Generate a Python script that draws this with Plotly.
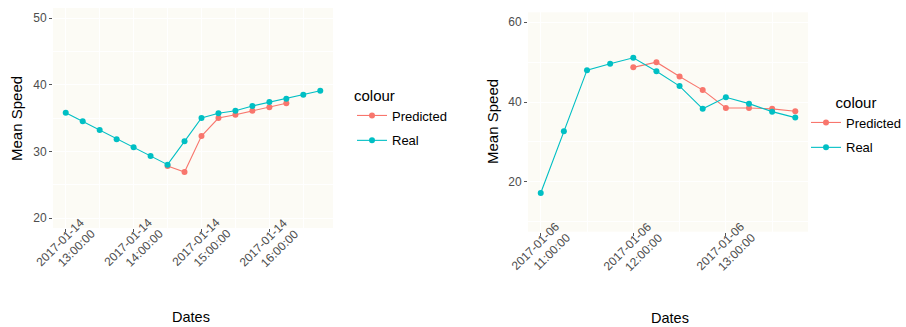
import plotly.graph_objects as go

# ---------- Left panel data (2017-01-14) ----------
left_real_times = ["2017-01-14 13:00", "2017-01-14 13:15", "2017-01-14 13:30", "2017-01-14 13:45",
                   "2017-01-14 14:00", "2017-01-14 14:15", "2017-01-14 14:30", "2017-01-14 14:45",
                   "2017-01-14 15:00", "2017-01-14 15:15", "2017-01-14 15:30", "2017-01-14 15:45",
                   "2017-01-14 16:00", "2017-01-14 16:15", "2017-01-14 16:30", "2017-01-14 16:45"]
left_real_values = [35.8, 34.5, 33.2, 31.8, 30.6, 29.3, 28.0, 31.5,
                    35.0, 35.7, 36.1, 36.8, 37.4, 37.9, 38.5, 39.1]
left_pred_times = ["2017-01-14 14:30", "2017-01-14 14:45", "2017-01-14 15:00", "2017-01-14 15:15",
                   "2017-01-14 15:30", "2017-01-14 15:45", "2017-01-14 16:00", "2017-01-14 16:15"]
left_pred_values = [27.8, 26.9, 32.3, 35.0, 35.5, 36.1, 36.6, 37.2]
left_tickvals = ["2017-01-14 13:00", "2017-01-14 14:00", "2017-01-14 15:00", "2017-01-14 16:00"]
left_ticktext = ["2017-01-14<br>13:00:00", "2017-01-14<br>14:00:00",
                 "2017-01-14<br>15:00:00", "2017-01-14<br>16:00:00"]
left_yticks = [20, 30, 40, 50]

# ---------- Right panel data (2017-01-06) ----------
right_real_times = ["2017-01-06 11:00", "2017-01-06 11:15", "2017-01-06 11:30", "2017-01-06 11:45",
                    "2017-01-06 12:00", "2017-01-06 12:15", "2017-01-06 12:30", "2017-01-06 12:45",
                    "2017-01-06 13:00", "2017-01-06 13:15", "2017-01-06 13:30", "2017-01-06 13:45"]
right_real_values = [17.2, 32.7, 48.0, 49.6, 51.1, 47.7, 44.0, 38.3, 41.2, 39.6, 37.6, 36.1]
right_pred_times = ["2017-01-06 12:00", "2017-01-06 12:15", "2017-01-06 12:30", "2017-01-06 12:45",
                    "2017-01-06 13:00", "2017-01-06 13:15", "2017-01-06 13:30", "2017-01-06 13:45"]
right_pred_values = [48.7, 50.0, 46.4, 43.0, 38.5, 38.5, 38.3, 37.7]
right_tickvals = ["2017-01-06 11:00", "2017-01-06 12:00", "2017-01-06 13:00"]
right_ticktext = ["2017-01-06<br>11:00:00", "2017-01-06<br>12:00:00", "2017-01-06<br>13:00:00"]
right_yticks = [20, 40, 60]

RED = "#F8766D"
TEAL = "#00BFC4"
BG = "#FCFBF5"
W, H = 906, 327

fig = go.Figure()


def add_series(x, y, name, color, xa, ya, legend, group):
    fig.add_trace(go.Scatter(
        x=x, y=y, name=name, mode="lines+markers",
        line=dict(color=color, width=1.1),
        marker=dict(color=color, size=6),
        xaxis=xa, yaxis=ya, legend=legend, legendgroup=group,
    ))


add_series(left_pred_times, left_pred_values, "Predicted", RED, "x", "y", "legend", "lp")
add_series(left_real_times, left_real_values, "Real", TEAL, "x", "y", "legend", "lr")
add_series(right_pred_times, right_pred_values, "Predicted", RED, "x2", "y2", "legend2", "rp")
add_series(right_real_times, right_real_values, "Real", TEAL, "x2", "y2", "legend2", "rr")


def px_x(p):
    return p / W


def px_y(p):
    return 1 - p / H


FONT = "Liberation Sans, Arial, sans-serif"
tickfont = dict(family=FONT, size=12, color="#4D4D4D")
common_axis = dict(
    showgrid=True, gridcolor="white", gridwidth=1.1,
    zeroline=False, showline=False, automargin=False,
    ticks="outside", ticklen=3, tickcolor="#555555", tickwidth=1,
    tickfont=tickfont,
)

fig.update_layout(
    width=W, height=H,
    margin=dict(l=0, r=0, t=0, b=0),
    paper_bgcolor="white",
    plot_bgcolor=BG,
    font=dict(family=FONT, color="black"),
    xaxis=dict(
        domain=[px_x(53), px_x(333)], anchor="y",
        type="date", range=["2017-01-14 12:48:45", "2017-01-14 16:56:15"],
        tickmode="array", tickvals=left_tickvals, showticklabels=False,
        minor=dict(dtick=1800000, tick0="2017-01-14 12:30", showgrid=True,
                   gridcolor="white", gridwidth=0.6),
        **common_axis,
    ),
    yaxis=dict(
        domain=[px_y(228), px_y(8)], anchor="x",
        range=[18.5, 51.5], tickmode="array", tickvals=left_yticks,
        minor=dict(dtick=5, tick0=0, showgrid=True, gridcolor="white", gridwidth=0.6),
        **common_axis,
    ),
    xaxis2=dict(
        domain=[px_x(528), px_x(808)], anchor="y2",
        type="date", range=["2017-01-06 10:51:45", "2017-01-06 13:53:15"],
        tickmode="array", tickvals=right_tickvals, showticklabels=False,
        minor=dict(dtick=1800000, tick0="2017-01-06 10:30", showgrid=True,
                   gridcolor="white", gridwidth=0.6),
        **common_axis,
    ),
    yaxis2=dict(
        domain=[px_y(231.7), px_y(12.3)], anchor="x2",
        range=[7.5, 62.5], tickmode="array", tickvals=right_yticks,
        minor=dict(dtick=10, tick0=0, showgrid=True, gridcolor="white", gridwidth=0.6),
        **common_axis,
    ),
    legend=dict(
        x=px_x(352), y=px_y(81), xanchor="left", yanchor="top",
        title=dict(text="colour", font=dict(size=15), side="top"),
        font=dict(size=13), bgcolor="rgba(0,0,0,0)", itemwidth=30,
        traceorder="grouped", tracegroupgap=5,
    ),
    legend2=dict(
        x=1, y=px_y(88), xanchor="right", yanchor="top",
        title=dict(text="colour", font=dict(size=15), side="top center"),
        font=dict(size=13), bgcolor="rgba(0,0,0,0)", itemwidth=30,
        traceorder="grouped", tracegroupgap=5,
    ),
    showlegend=True,
)

title_font = dict(family=FONT, size=15, color="black")
annotations = [
    dict(text="Dates", x=px_x(191), y=px_y(317), xref="paper", yref="paper",
         showarrow=False, font=dict(family=FONT, size=14.5, color="black"),
         xanchor="center", yanchor="middle"),
    dict(text="Dates", x=px_x(670), y=px_y(317.5), xref="paper", yref="paper",
         showarrow=False, font=dict(family=FONT, size=14.5, color="black"),
         xanchor="center", yanchor="middle"),
    dict(text="Mean Speed", x=px_x(16), y=px_y(119), xref="paper", yref="paper",
         showarrow=False, font=title_font, textangle=-90, xanchor="center", yanchor="middle"),
    dict(text="Mean Speed", x=px_x(492), y=px_y(122), xref="paper", yref="paper",
         showarrow=False, font=title_font, textangle=-90, xanchor="center", yanchor="middle"),
]

# rotated date tick labels (ggplot style: angle 45, right-justified)
for xref, yref, vals, texts in [("x", "y domain", left_tickvals, left_ticktext),
                                ("x2", "y2 domain", right_tickvals, right_ticktext)]:
    for v, t in zip(vals, texts):
        annotations.append(dict(
            text=t, x=v, y=0, xref=xref, yref=yref, showarrow=False,
            textangle=-45, align="right", xanchor="right", yanchor="top",
            xshift=34, yshift=14, font=tickfont, borderpad=0,
        ))

fig.update_layout(annotations=annotations)

fig.write_html("out.html", config={"displayModeBar": False},
               post_script="document.body.style.margin='0';document.body.style.overflow='hidden';")
